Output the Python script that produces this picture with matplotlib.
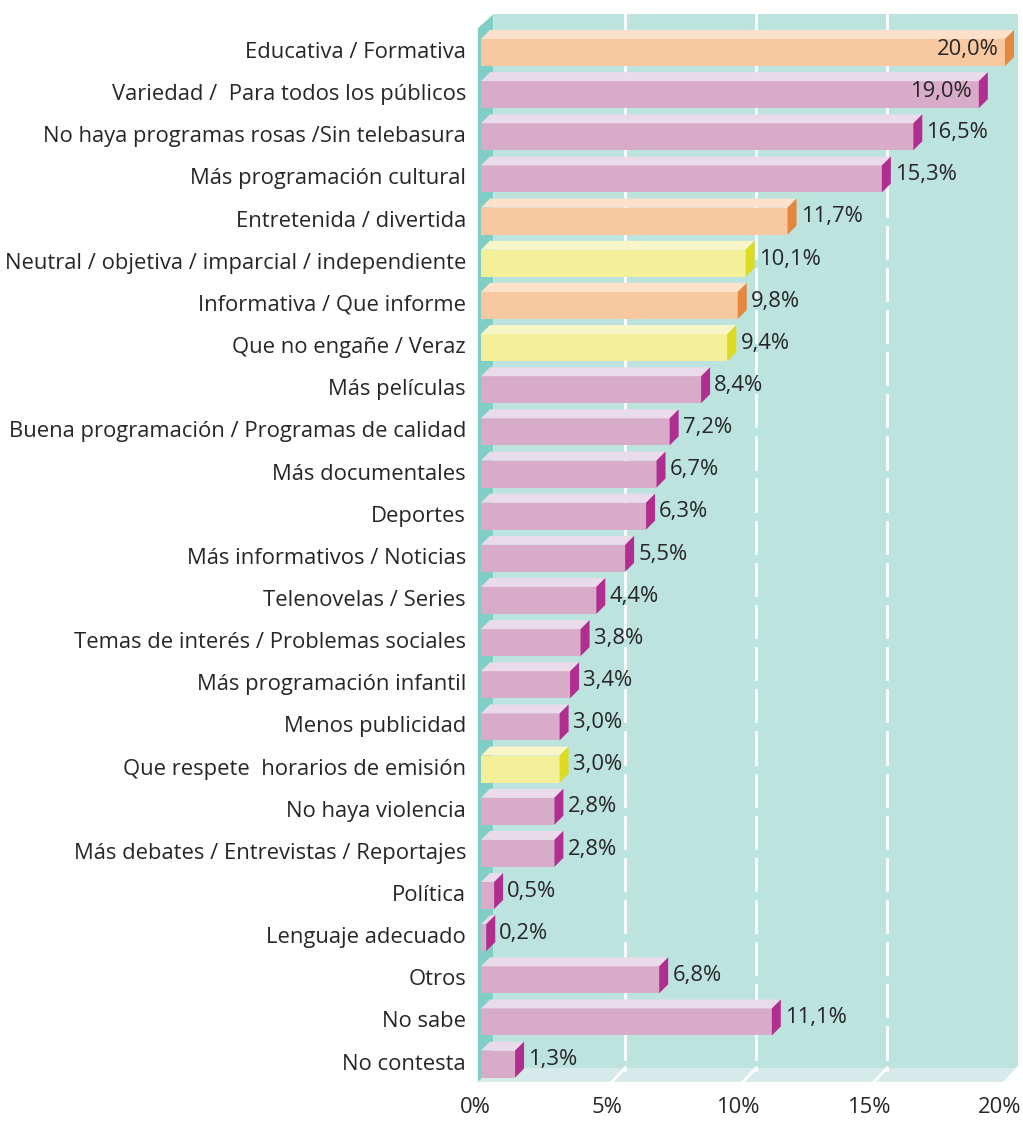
import matplotlib
matplotlib.use("Agg")
import matplotlib.pyplot as plt
from matplotlib.patches import Polygon

plt.rcParams["font.family"] = ["Open Sans", "DejaVu Sans"]

categories = [
    "Educativa / Formativa",
    "Variedad /  Para todos los públicos",
    "No haya programas rosas /Sin telebasura",
    "Más programación cultural",
    "Entretenida / divertida",
    "Neutral / objetiva / imparcial / independiente",
    "Informativa / Que informe",
    "Que no engañe / Veraz",
    "Más películas",
    "Buena programación / Programas de calidad",
    "Más documentales",
    "Deportes",
    "Más informativos / Noticias",
    "Telenovelas / Series",
    "Temas de interés / Problemas sociales",
    "Más programación infantil",
    "Menos publicidad",
    "Que respete  horarios de emisión",
    "No haya violencia",
    "Más debates / Entrevistas / Reportajes",
    "Política",
    "Lenguaje adecuado",
    "Otros",
    "No sabe",
    "No contesta",
]
values = [20.0, 19.0, 16.5, 15.3, 11.7, 10.1, 9.8, 9.4, 8.4, 7.2, 6.7, 6.3,
          5.5, 4.4, 3.8, 3.4, 3.0, 3.0, 2.8, 2.8, 0.5, 0.2, 6.8, 11.1, 1.3]
groups = ["o", "p", "p", "p", "o", "y", "o", "y", "p", "p", "p", "p",
          "p", "p", "p", "p", "p", "y", "p", "p", "p", "p", "p", "p", "p"]
ticks = [0, 5, 10, 15, 20]

# front, top, side
palette = {
    "o": ("#f8c8a1", "#fde1cb", "#e5883f"),
    "p": ("#d8abc9", "#e9dbea", "#b12e90"),
    "y": ("#f4f09a", "#f8f6c8", "#dcdb22"),
}
wall_c = "#bce3de"
side_wall_c = "#7fcfc7"
floor_c = "#d6ebe9"
text_c = "#262626"
fs = 15.8

W, H = 1023, 1122
x0_px, px_per_pct = 481, 26.2
y0_px, px_per_row = 52.5, 42.15
sx = 1 / px_per_pct
sy = 1 / px_per_row

fig = plt.figure(figsize=(W / 100, H / 100), dpi=100)
ax = fig.add_axes([0, 0, 1, 1])
ax.set_xlim(-x0_px * sx, (W - x0_px) * sx)
ax.set_ylim((H - y0_px) * sy, -y0_px * sy)
ax.axis("off")

n = len(categories)
xmax = ticks[-1]
bh = 27 * sy           # front face height
bdx, bdy = 9 * sx, 9 * sy     # bar depth
wdx, wdy = 13 * sx, 14 * sy   # wall depth
wall_top = -0.91
floor_back = n - 1 + 0.09
floor_front = floor_back + wdy

# back wall
ax.add_patch(Polygon([(wdx, wall_top), (xmax + wdx, wall_top),
                      (xmax + wdx, floor_back), (wdx, floor_back)],
                     closed=True, fc=wall_c, ec="none", zorder=0))
# floor
ax.add_patch(Polygon([(-0.1, floor_front), (xmax, floor_front),
                      (xmax + wdx, floor_back), (wdx, floor_back)],
                     closed=True, fc=floor_c, ec="none", zorder=0))
# left wall
ax.add_patch(Polygon([(-0.12, wall_top + wdy), (wdx - 0.02, wall_top),
                      (wdx - 0.02, floor_back), (-0.12, floor_front)],
                     closed=True, fc=side_wall_c, ec="none", zorder=0.5))

# grid lines on wall and floor
for t in ticks[1:]:
    xb = t + wdx
    if t < xmax:
        ax.plot([xb, xb], [wall_top, -0.13], color="white", lw=2, zorder=1)
        for i in range(n - 1):
            ax.plot([xb, xb], [i + 0.13, i + 0.87], color="white", lw=2,
                    zorder=1)
        ax.plot([xb, xb], [n - 1 + 0.13, floor_back], color="white", lw=2,
                zorder=1)
    ax.plot([xb, t], [floor_back, floor_front], color="white", lw=2, zorder=1)

# bars
ypos = list(range(n))
fronts = [palette[g][0] for g in groups]
ax.barh(ypos, values, height=bh, color=fronts, edgecolor="none", zorder=3)
for i, (v, g) in enumerate(zip(values, groups)):
    front, top, side = palette[g]
    yt, yb = i - bh / 2, i + bh / 2
    ax.add_patch(Polygon([(0, yt), (v, yt), (v + bdx, yt - bdy),
                          (bdx, yt - bdy)],
                         closed=True, fc=top, ec="none", zorder=3))
    ax.add_patch(Polygon([(v, yt), (v + bdx, yt - bdy), (v + bdx, yb - bdy),
                          (v, yb)],
                         closed=True, fc=side, ec="none", zorder=3))
    lab = f"{v:.1f}".replace(".", ",") + "%"
    if v >= 19:
        ax.text(v - 0.25, i - 0.08, lab, ha="right", va="center",
                fontsize=fs, color=text_c, zorder=4)
    else:
        ax.text(v + 0.5, i - 0.1, lab, ha="left", va="center",
                fontsize=fs, color=text_c, zorder=4)
    ax.text(-15 * sx, i, categories[i], ha="right", va="center",
            fontsize=fs, color=text_c)

for t in ticks:
    ax.text(t - 0.2, n - 1 + 1.04, f"{t}%", ha="center", va="center",
            fontsize=fs, color=text_c)

fig.savefig("out.png", dpi=100)
